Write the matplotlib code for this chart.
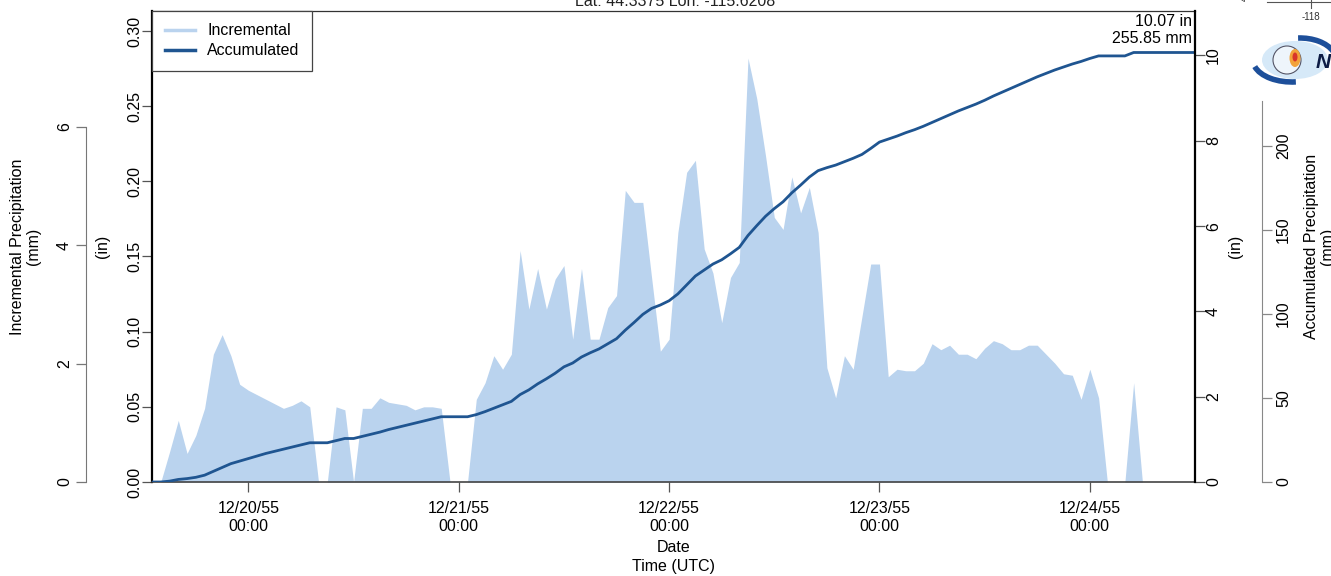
import numpy as np
import pandas as pd
import matplotlib
matplotlib.use('Agg')
import matplotlib.pyplot as plt
import matplotlib.dates as mdates
from matplotlib.lines import Line2D
from matplotlib.patches import Circle, Ellipse, Arc

plt.rcParams['font.family'] = ['Liberation Sans', 'DejaVu Sans']
plt.rcParams['font.size'] = 11.5

# hourly data, 12/19/55 13:00 UTC -> 12/24/55 12:00 UTC
times = pd.date_range('1955-12-19 13:00', periods=120, freq='h')

# incremental precipitation (in)
incremental = [
	0, 0, 0.020, 0.041, 0.019, 0.031, 0.049, 0.085, 0.098, 0.084, 0.065, 0.061,
	0.058, 0.055, 0.052, 0.049, 0.051, 0.054, 0.050, 0, 0, 0.050, 0.048, 0,
	0.049, 0.049, 0.056, 0.053, 0.052, 0.051, 0.048, 0.050, 0.050, 0.049, 0, 0,
	0, 0.055, 0.066, 0.084, 0.075, 0.085, 0.154, 0.115, 0.142, 0.115, 0.135, 0.144,
	0.095, 0.142, 0.095, 0.095, 0.116, 0.124, 0.194, 0.186, 0.186, 0.136, 0.087, 0.095,
	0.166, 0.206, 0.214, 0.155, 0.139, 0.106, 0.136, 0.146, 0.282, 0.255, 0.217, 0.176,
	0.168, 0.203, 0.179, 0.196, 0.166, 0.076, 0.056, 0.084, 0.075, 0.110, 0.145, 0.145,
	0.070, 0.075, 0.074, 0.074, 0.079, 0.092, 0.088, 0.091, 0.085, 0.085, 0.082, 0.089,
	0.094, 0.092, 0.088, 0.088, 0.091, 0.091, 0.085, 0.079, 0.072, 0.071, 0.055, 0.075,
	0.056, 0, 0, 0, 0.066, 0, 0, 0, 0, 0, 0, 0,
]

# accumulated precipitation (in)
accumulated = [
	0, 0, 0.02, 0.06, 0.08, 0.11, 0.16, 0.25, 0.34, 0.43, 0.49, 0.55,
	0.61, 0.67, 0.72, 0.77, 0.82, 0.87, 0.92, 0.92, 0.92, 0.97, 1.02, 1.02,
	1.07, 1.12, 1.17, 1.23, 1.28, 1.33, 1.38, 1.43, 1.48, 1.53, 1.53, 1.53,
	1.53, 1.58, 1.65, 1.73, 1.81, 1.89, 2.05, 2.16, 2.30, 2.42, 2.55, 2.70,
	2.79, 2.93, 3.03, 3.12, 3.24, 3.36, 3.56, 3.74, 3.93, 4.07, 4.15, 4.25,
	4.41, 4.62, 4.83, 4.97, 5.11, 5.21, 5.35, 5.50, 5.78, 6.01, 6.23, 6.41,
	6.57, 6.78, 6.96, 7.15, 7.30, 7.37, 7.43, 7.51, 7.59, 7.68, 7.82, 7.97,
	8.04, 8.11, 8.19, 8.26, 8.34, 8.43, 8.52, 8.61, 8.70, 8.78, 8.86, 8.95,
	9.05, 9.14, 9.23, 9.32, 9.41, 9.50, 9.58, 9.66, 9.73, 9.80, 9.86, 9.93,
	9.99, 9.99, 9.99, 9.99, 10.07, 10.07, 10.07, 10.07, 10.07, 10.07, 10.07, 10.07,
]

inc_in_ticks = [0, 0.05, 0.10, 0.15, 0.20, 0.25, 0.30]
inc_mm_ticks = [0, 2, 4, 6]
acc_in_ticks = [0, 2, 4, 6, 8, 10]
acc_mm_ticks = [0, 50, 100, 150, 200]
total_in = 10.07
total_mm = 255.85

inc_top = 0.3135   # top of left scale (in)
acc_top = 11.05    # top of right scale (in)

light = '#bad3ee'
dark = '#1f5591'

fig = plt.figure(figsize=(13.31, 5.76), dpi=100)
ax = fig.add_axes([152/1331, 1-482/576, 1043/1331, 471.3/576])

ax.fill_between(times, incremental, 0, color=light, lw=0)
ax.set_xlim(times[0], times[-1])
ax.set_ylim(0, inc_top)
ax.set_yticks(inc_in_ticks)
ax.set_yticklabels(['%.2f' % v for v in inc_in_ticks])
ax.xaxis.set_major_locator(mdates.DayLocator())
ax.xaxis.set_major_formatter(mdates.DateFormatter('%m/%d/%y\n%H:%M'))
ax.tick_params(axis='x', length=7, width=0.9, color='#555', pad=7)
ax.tick_params(axis='y', length=7, width=0.9, color='#555', pad=0, labelrotation=90)
for lab in ax.get_yticklabels():
	lab.set_va('center')
ax.set_ylabel('(in)')
ax.yaxis.set_label_coords(-0.04, 0.5)
ax.set_xlabel('Date\nTime (UTC)', linespacing=1.3)
ax.xaxis.set_label_coords(0.5, -0.124)
ax.spines['top'].set_linewidth(0.9)
ax.spines['top'].set_color('#333')
ax.spines['bottom'].set_linewidth(1.2)
ax.spines['bottom'].set_color('#444')
ax.spines['left'].set_linewidth(1.6)
ax.spines['right'].set_visible(False)

# accumulated, right (in) axis
ax2 = ax.twinx()
ax2.plot(times, accumulated, color=dark, lw=2)
ax2.set_ylim(0, acc_top)
ax2.set_yticks(acc_in_ticks)
ax2.tick_params(axis='y', length=7, width=0.9, color='#555', pad=1, labelrotation=90)
for lab in ax2.get_yticklabels():
	lab.set_va('center')
ax2.set_ylabel('(in)')
ax2.yaxis.set_label_coords(1.0316, 0.5)
for s in ['top', 'bottom', 'left']:
	ax2.spines[s].set_visible(False)
ax2.spines['right'].set_linewidth(1.6)
ax2.spines['right'].set_color('black')

# outer left mm axis
ax3 = ax.twinx()
ax3.set_ylim(0, inc_top*25.4)
ax3.yaxis.set_ticks_position('left')
ax3.yaxis.set_label_position('left')
ax3.spines['left'].set_position(('outward', 66*0.72))
ax3.spines['left'].set_bounds(0, 6)
ax3.spines['left'].set_color('#777')
for s in ['top', 'bottom', 'right']:
	ax3.spines[s].set_visible(False)
ax3.set_yticks(inc_mm_ticks)
ax3.tick_params(axis='y', length=7, width=0.9, color='#777', pad=3, labelrotation=90)
for lab in ax3.get_yticklabels():
	lab.set_va('center')
ax3.set_ylabel('Incremental Precipitation\n(mm)', linespacing=1.1)
ax3.yaxis.set_label_coords(-0.106, 0.5)

# outer right mm axis
ax4 = ax.twinx()
ax4.set_ylim(0, acc_top*25.4)
ax4.spines['right'].set_position(('outward', 67*0.72))
ax4.spines['right'].set_bounds(0, 227)
ax4.spines['right'].set_color('#888')
for s in ['top', 'bottom', 'left']:
	ax4.spines[s].set_visible(False)
ax4.set_yticks(acc_mm_ticks)
ax4.tick_params(axis='y', length=7, width=0.9, color='#888', pad=3, labelrotation=90)
for lab in ax4.get_yticklabels():
	lab.set_va('center')
ax4.set_ylabel('Accumulated Precipitation\n(mm)', linespacing=1.1, rotation=90, va='bottom')
ax4.yaxis.set_label_coords(1.134, 0.5)

ax4.text(0.997, 0.993, '%.2f in\n%.2f mm' % (total_in, total_mm), transform=ax.transAxes,
	ha='right', va='top', linespacing=1.2)

handles = [Line2D([], [], color=light, lw=2.5), Line2D([], [], color=dark, lw=2.5)]
leg = ax4.legend(handles, ['Incremental', 'Accumulated'], loc='upper left', bbox_to_anchor=(0, 1),
	borderaxespad=0, fancybox=False, edgecolor='#444', framealpha=1, handlelength=1.9,
	handletextpad=0.75, borderpad=0.8, labelspacing=0.3)
leg.get_frame().set_linewidth(0.9)

fig.text(675/1331, 1-6/576, 'Lat: 44.3375 Lon: -115.6208', ha='center', va='baseline', color='#222')

# pieces of the map inset and logo at the top right
ov = fig.add_axes([0, 0, 1, 1], zorder=5)
ov.set_xlim(0, 1331)
ov.set_ylim(576, 0)
ov.axis('off')
ov.plot([1267, 1331], [2, 2], color='#555', lw=0.8)
ov.plot([1311, 1311], [0, 8], color='#555', lw=0.8)
ov.text(1311, 17, '-118', ha='center', va='center', fontsize=7, color='#333')
ov.text(1245, -2, '4', ha='center', va='center', fontsize=7, rotation=90, color='#333')
ov.add_patch(Ellipse((1295, 60), 66, 38, facecolor='#d6e9f8', edgecolor='none'))
ov.add_patch(Arc((1292, 60), 78, 44, theta1=80, theta2=170, color='#1d4f9a', lw=4))
ov.add_patch(Arc((1300, 60), 72, 44, theta1=265, theta2=345, color='#1d4f9a', lw=4))
ov.add_patch(Circle((1287, 60), 14, facecolor='#eef5fb', edgecolor='#556', lw=0.8))
ov.add_patch(Ellipse((1295, 58), 11, 18, facecolor='#f2a23a', edgecolor='none'))
ov.add_patch(Ellipse((1295, 57), 5, 9, facecolor='#d8342a', edgecolor='none'))
ov.text(1316, 62, 'N', ha='left', va='center', fontsize=15, fontweight='bold', style='italic', color='#0d1c45')

fig.savefig('out.png', dpi=100)
